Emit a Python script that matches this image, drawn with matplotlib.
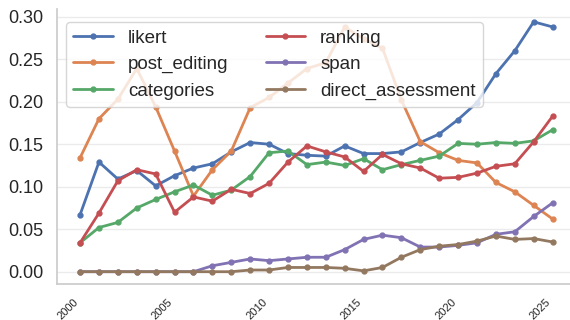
import matplotlib
matplotlib.use("Agg")
import matplotlib.pyplot as plt
import seaborn as sns

years = list(range(2000, 2026))

likert = [0.067, 0.129, 0.109, 0.119, 0.101, 0.113, 0.122, 0.127, 0.141, 0.152, 0.150, 0.139, 0.137, 0.136,
          0.148, 0.139, 0.139, 0.141, 0.152, 0.162, 0.179, 0.199, 0.233, 0.260, 0.294, 0.288]
post_editing = [0.134, 0.180, 0.203, 0.239, 0.194, 0.142, 0.089, 0.120, 0.142, 0.193, 0.205, 0.222, 0.239, 0.246,
                0.288, 0.274, 0.263, 0.202, 0.153, 0.140, 0.131, 0.128, 0.105, 0.094, 0.078, 0.062]
categories = [0.034, 0.052, 0.058, 0.075, 0.085, 0.094, 0.102, 0.090, 0.096, 0.112, 0.140, 0.142, 0.126, 0.129,
              0.125, 0.133, 0.120, 0.126, 0.131, 0.136, 0.151, 0.150, 0.152, 0.151, 0.154, 0.167]
ranking = [0.034, 0.069, 0.107, 0.120, 0.115, 0.070, 0.088, 0.083, 0.097, 0.092, 0.104, 0.129, 0.148, 0.141,
           0.135, 0.118, 0.138, 0.127, 0.122, 0.110, 0.111, 0.116, 0.124, 0.127, 0.153, 0.183]
span = [0.0, 0.0, 0.0, 0.0, 0.0, 0.0, 0.0, 0.007, 0.011, 0.015, 0.013, 0.015, 0.017, 0.017,
        0.026, 0.038, 0.043, 0.040, 0.029, 0.029, 0.031, 0.034, 0.044, 0.047, 0.065, 0.081]
direct_assessment = [0.0, 0.0, 0.0, 0.0, 0.0, 0.0, 0.0, 0.0, 0.0, 0.002, 0.002, 0.005, 0.005, 0.005,
                     0.004, 0.001, 0.005, 0.017, 0.026, 0.030, 0.032, 0.036, 0.042, 0.038, 0.039, 0.035]

series = [("likert", likert), ("post_editing", post_editing), ("categories", categories),
          ("ranking", ranking), ("span", span), ("direct_assessment", direct_assessment)]

sns.set_theme(style="whitegrid", palette="deep")
plt.rcParams['font.family'] = ['Liberation Sans', 'DejaVu Sans']

fig = plt.figure(figsize=(5.7, 3.2), dpi=100)
ax = fig.add_axes([57 / 570, 35.8 / 320, 513 / 570, 275.7 / 320])

for name, vals in series:
    ax.plot(years, vals, marker='o', markersize=3.5, linewidth=2, label=name)

ax.set_xlim(1998.78, 2025.92)
ax.set_ylim(-0.0147, 0.3097)
ax.set_xticks([2000, 2005, 2010, 2015, 2020, 2025])
ax.set_yticks([0.0, 0.05, 0.10, 0.15, 0.20, 0.25, 0.30])
ax.set_yticklabels(["0.00", "0.05", "0.10", "0.15", "0.20", "0.25", "0.30"])
ax.tick_params(axis='y', labelsize=13, pad=4)
ax.tick_params(axis='x', labelsize=8, pad=3)
for lab in ax.get_xticklabels():
    lab.set_rotation(45)
    lab.set_ha('right')
ax.xaxis.grid(False)
ax.yaxis.grid(True, color='#ebebeb', linewidth=1)
sns.despine(ax=ax)
for s in ['left', 'bottom']:
    ax.spines[s].set_color('#cccccc')

ax.legend(loc='upper left', ncol=2, fontsize=13.5, framealpha=0.8, handlelength=2.1,
          bbox_to_anchor=(0.01, 0.965), borderaxespad=0.2, columnspacing=2.0)

fig.savefig("out.png", dpi=100)
